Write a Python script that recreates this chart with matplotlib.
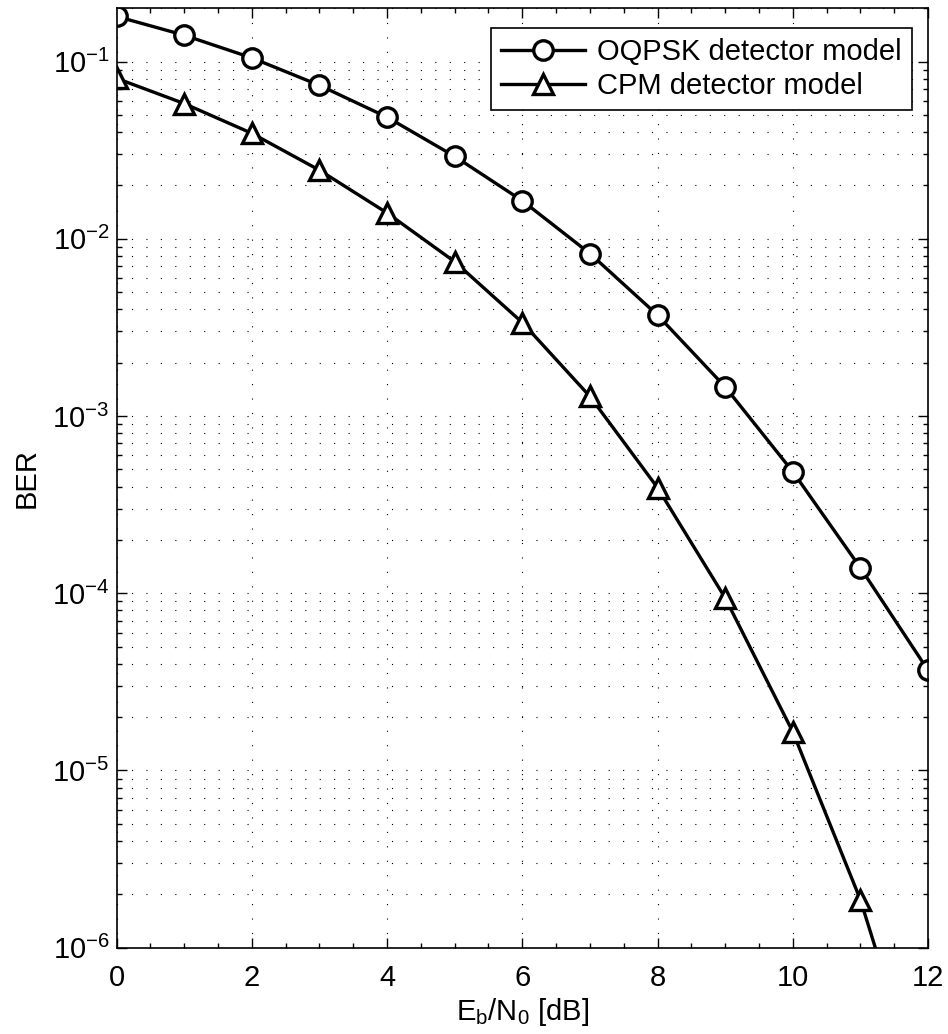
import matplotlib
matplotlib.use("Agg")
import matplotlib.pyplot as plt
from matplotlib.ticker import LogLocator, MultipleLocator, NullFormatter

plt.rcParams["font.family"] = ["Liberation Sans", "DejaVu Sans"]
plt.rcParams["mathtext.fontset"] = "custom"
plt.rcParams["mathtext.rm"] = "Liberation Sans"
plt.rcParams["mathtext.it"] = "Liberation Sans:italic"

ebn0_db = [0, 1, 2, 3, 4, 5, 6, 7, 8, 9, 10, 11, 12]
ber_oqpsk = [0.18, 0.141, 0.105, 0.0735, 0.0486, 0.0292, 0.0164, 0.00826,
             0.00371, 0.00146, 0.000485, 0.000139, 3.67e-5]
ber_cpm = [0.0805, 0.058, 0.0394, 0.0244, 0.0140, 0.00743, 0.00337, 0.00129,
           0.000394, 9.4e-5, 1.65e-5, 1.86e-6, 1.1e-7]

fig = plt.figure(figsize=(9.48, 10.34), dpi=100)
ax = fig.add_axes([0.1229, 0.0835, 0.8561, 0.9085])

ax.semilogy(ebn0_db, ber_oqpsk, color="black", lw=2.4, marker="o", ms=14,
            mfc="white", mew=2.4, label="OQPSK detector model")
ax.semilogy(ebn0_db, ber_cpm, color="black", lw=2.4, marker="^", ms=15,
            mfc="white", mew=2.4, label="CPM detector model")

ax.set_xlim(0, 12)
ax.set_ylim(1e-6, 0.2)
ax.xaxis.set_major_locator(MultipleLocator(2))
ax.xaxis.set_minor_locator(MultipleLocator(0.5))
ax.yaxis.set_major_locator(LogLocator(base=10, numticks=20))
ax.yaxis.set_minor_locator(LogLocator(base=10, subs=range(2, 10), numticks=20))
ax.yaxis.set_minor_formatter(NullFormatter())

ax.tick_params(which="both", direction="in", top=True, right=True,
               labelsize=21, width=1.0)
ax.tick_params(which="major", length=7)
ax.tick_params(which="minor", length=3.5)
ax.tick_params(axis="x", pad=12)
ax.tick_params(axis="y", pad=5)

grid_style = dict(color="black", linestyle=(0, (1, 12)), linewidth=0.8)
ax.xaxis.grid(True, which="major", **grid_style)
ax.yaxis.grid(True, which="both", **grid_style)

for spine in ax.spines.values():
    spine.set_linewidth(1.2)

ax.set_xlabel(r"$\mathregular{E_b/N_0}$ [dB]", fontsize=21, labelpad=3)
ax.set_ylabel("BER", fontsize=21, labelpad=8)

leg = ax.legend(loc="upper right", bbox_to_anchor=(0.980, 0.979),
                fontsize=21, handlelength=2.9, fancybox=False, framealpha=1,
                edgecolor="black", borderaxespad=0, borderpad=0.35,
                labelspacing=0.2, handletextpad=0.4)
leg.get_frame().set_linewidth(1.2)

fig.savefig("out.png", dpi=100)
plt.close(fig)
